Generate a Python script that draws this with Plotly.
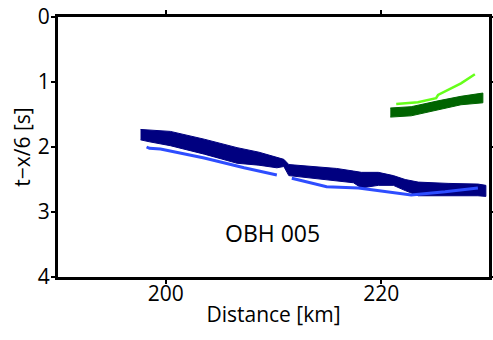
import plotly.graph_objects as go

# Navy picked band: distance [km], upper and lower reduced time [s]
navy_x = [197.66, 198.49, 200.43, 203.57, 206.62, 208.65, 210.31, 210.96,
          211.42, 213.45, 215.85, 217.42, 218.16, 219.73, 221.12, 222.22,
          223.43, 226.20, 228.97, 229.71]
navy_top = [1.73, 1.74, 1.76, 1.88, 2.01, 2.08, 2.16, 2.19,
            2.27, 2.30, 2.33, 2.37, 2.39, 2.39, 2.44, 2.50,
            2.54, 2.56, 2.57, 2.59]
navy_bot = [1.89, 1.92, 1.98, 2.11, 2.25, 2.28, 2.32, 2.30,
            2.44, 2.47, 2.52, 2.55, 2.63, 2.59, 2.59, 2.67,
            2.75, 2.75, 2.75, 2.76]

# Blue arrival line (two segments)
blue1_x = [198.22, 198.49, 199.51, 203.57, 207.27, 210.31]
blue1_t = [2.00, 2.02, 2.03, 2.17, 2.32, 2.43]
blue2_x = [211.70, 214.93, 217.89, 220.02, 222.78, 225.92, 228.97]
blue2_t = [2.48, 2.61, 2.63, 2.68, 2.74, 2.69, 2.63]

# Light green arrival line
lgreen_x = [221.39, 223.40, 225.09, 225.27, 227.40, 228.69]
lgreen_t = [1.34, 1.31, 1.25, 1.20, 1.02, 0.88]

# Dark green picked band
dgreen_x = [220.84, 222.78, 225.27, 227.40, 229.43]
dgreen_top = [1.40, 1.38, 1.29, 1.22, 1.17]
dgreen_bot = [1.54, 1.52, 1.43, 1.35, 1.32]

station_label = "OBH 005"
label_pos = (209.9, 3.32)

x_ticks = [200, 220]
y_ticks = [0, 1, 2, 3, 4]

FONT = "Open Sans"
FSIZE = 21
NAVY = "#000080"
BLUE = "#2e4dff"
LGREEN = "#66ff1a"
DGREEN = "#006400"

fig = go.Figure()


def band(xs, top, bot, color):
    fig.add_trace(go.Scatter(
        x=xs + xs[::-1], y=top + bot[::-1], mode="lines",
        fill="toself", fillcolor=color,
        line=dict(color=color, width=1), hoverinfo="skip", showlegend=False))


band(navy_x, navy_top, navy_bot, NAVY)
band(dgreen_x, dgreen_top, dgreen_bot, DGREEN)

for xs, ts in [(blue1_x, blue1_t), (blue2_x, blue2_t)]:
    fig.add_trace(go.Scatter(x=xs, y=ts, mode="lines",
                             line=dict(color=BLUE, width=3),
                             showlegend=False))

fig.add_trace(go.Scatter(x=lgreen_x, y=lgreen_t, mode="lines",
                         line=dict(color=LGREEN, width=2.5),
                         showlegend=False))

fig.add_annotation(x=label_pos[0], y=label_pos[1], text=station_label,
                   showarrow=False, font=dict(family=FONT, size=23, color="black"))

axis_common = dict(showline=True, linecolor="black", linewidth=3,
                   ticks="outside", ticklen=4, tickwidth=2, tickcolor="black",
                   mirror="ticks", showgrid=False, zeroline=False,
                   automargin=False,
                   tickfont=dict(family=FONT, size=FSIZE, color="black"))

fig.update_layout(
    width=493, height=340,
    margin=dict(l=58, r=4, t=17, b=63, autoexpand=False),
    plot_bgcolor="white", paper_bgcolor="white",
    xaxis=dict(range=[190, 230], tickvals=x_ticks, ticklabelstandoff=-8,
               title=dict(text="Distance [km]", standoff=2,
                          font=dict(family=FONT, size=FSIZE, color="black")),
               **axis_common),
    yaxis=dict(range=[4, 0], tickvals=y_ticks, ticklabelstandoff=-3,
               title=dict(text="t\u2212x/6 [s]", standoff=2,
                          font=dict(family=FONT, size=FSIZE, color="black")),
               **axis_common),
)

fig.write_html("out.html")
